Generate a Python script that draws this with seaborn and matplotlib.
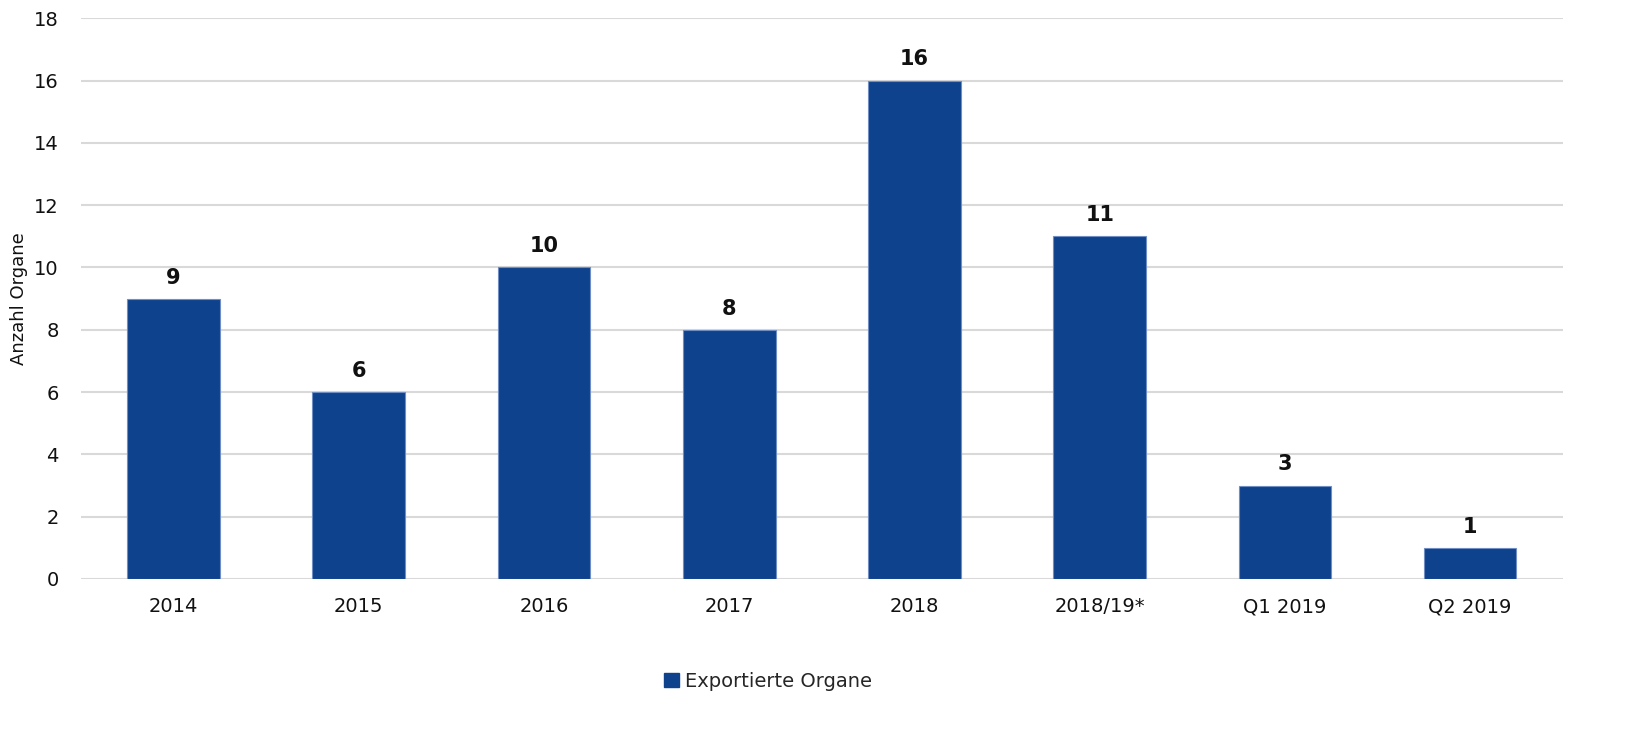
import matplotlib
matplotlib.use("Agg")
import matplotlib.pyplot as plt
import seaborn as sns
import pandas as pd
from matplotlib.patches import Patch

categories = ["2014", "2015", "2016", "2017", "2018", "2018/19*", "Q1 2019", "Q2 2019"]
values = [9, 6, 10, 8, 16, 11, 3, 1]
series_name = "Exportierte Organe"
y_label = "Anzahl Organe"
y_ticks = [0, 2, 4, 6, 8, 10, 12, 14, 16, 18]

sns.set_theme(style="white")
plt.rcParams["font.family"] = ["DejaVu Sans"]

df = pd.DataFrame({"Kategorie": categories, "Wert": values})
color = "#0E428C"

fig = plt.figure(figsize=(16.52, 7.31), dpi=100)
ax = fig.add_axes([0.049, 0.208, 0.897, 0.767])

sns.barplot(data=df, x="Kategorie", y="Wert", color=color, width=0.5,
            saturation=1, edgecolor="#6f8fc4", linewidth=0.8, ax=ax, zorder=3)

ax.set_ylim(0, 18)
ax.set_yticks(y_ticks)
ax.yaxis.grid(True, color="#d9d9d9", linewidth=1.5, zorder=0)
ax.set_axisbelow(True)
for s in ax.spines.values():
    s.set_visible(False)
ax.tick_params(axis="both", length=0, labelsize=14, colors="#111111")
ax.tick_params(axis="x", pad=13)
ax.tick_params(axis="y", pad=16)
ax.set_xlabel("")
ax.set_ylabel(y_label, fontsize=13, color="#111111", labelpad=4)
ax.set_xlim(-0.5, len(categories) - 0.5)

for container in ax.containers:
    ax.bar_label(container, labels=[str(v) for v in values], padding=8,
                 fontsize=15, fontweight="bold", color="#111111")

handle = Patch(facecolor=color, edgecolor=color, label=series_name)
fig.legend(handles=[handle], loc="center", bbox_to_anchor=(0.465, 0.068),
           frameon=False, fontsize=14, handlelength=0.75, handleheight=0.75,
           handletextpad=0.3)

fig.savefig("out.png", dpi=100)
